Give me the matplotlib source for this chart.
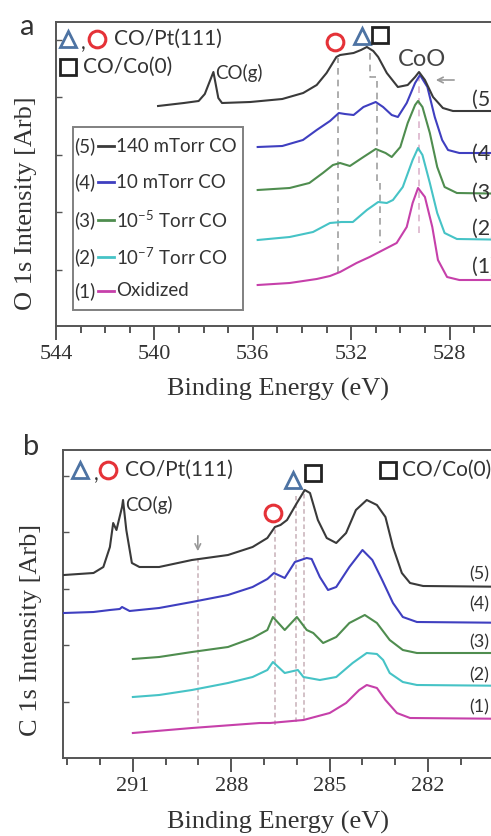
import matplotlib.pyplot as plt
from matplotlib.patches import Rectangle
from matplotlib.ticker import MultipleLocator

plt.rcParams['font.family'] = ['Liberation Serif', 'DejaVu Serif']
plt.rcParams['mathtext.fontset'] = 'custom'
plt.rcParams['mathtext.rm'] = 'Lato'
sans = ['Lato', 'DejaVu Sans']

# ---- (a) O 1s : binding energy (eV) / intensity (arb) ----
o1s_e5 = [539.85, 538.8, 538.2, 537.95, 537.6, 537.4, 537.25, 536.1, 534.8, 533.95, 533.4, 533.0, 532.6,
          532.45, 531.9, 531.6, 531.36, 531.1, 530.9, 530.55, 530.1, 529.7, 529.4, 529.24, 529.0, 528.67,
          528.27, 527.86, 526.3, 525.0]
o1s_i5 = [220, 223, 225, 232, 254, 228, 223, 224, 227, 233, 241, 253, 269,
          271, 273, 276, 279, 275, 269, 253, 239, 241, 249, 254, 246, 229,
          218, 215, 215, 215]
o1s_e4 = [535.8, 534.8, 533.96, 533.4, 532.86, 532.5, 532.25, 531.9, 531.5, 531.0, 530.7, 530.35, 530.1,
          529.74, 529.4, 529.2, 528.9, 528.6, 528.3, 528.06, 527.6, 525.0]
o1s_i4 = [179, 180, 186, 196, 205, 213, 212, 211, 219, 224, 219, 211, 209,
          223, 243, 251, 239, 209, 186, 176, 173, 173]
o1s_e3 = [535.8, 534.5, 533.7, 533.15, 532.74, 532.45, 532.05, 531.5, 531.0, 530.6, 530.35, 530.0, 529.7,
          529.4, 529.28, 529.1, 528.8, 528.5, 528.2, 527.7, 525.0]
o1s_i3 = [136, 138, 143, 153, 161, 163, 160, 169, 177, 173, 169, 179, 203,
          221, 225, 219, 193, 159, 139, 133, 132]
o1s_e2 = [535.8, 534.5, 533.55, 532.86, 532.4, 531.93, 531.36, 530.9, 530.55, 530.3, 529.9, 529.5, 529.28,
          529.1, 528.8, 528.5, 528.2, 527.7, 525.0]
o1s_i2 = [86, 89, 94, 103, 104, 104, 116, 124, 123, 126, 139, 166, 178,
          171, 143, 113, 93, 87, 86]
o1s_e1 = [535.8, 534.5, 533.4, 532.86, 532.45, 531.78, 531.25, 530.7, 530.15, 529.74, 529.5, 529.28, 529.0,
          528.7, 528.47, 528.1, 527.6, 525.0]
o1s_i1 = [41, 43, 47, 50, 54, 63, 69, 76, 83, 99, 123, 138, 129,
          99, 66, 49, 46, 46]

# ---- (b) C 1s ----
c1s_e5 = [293.1, 292.2, 291.9, 291.7, 291.6, 291.5, 291.33, 291.3, 291.2, 291.03, 290.8, 290.2, 289.2,
          288.1, 287.35, 286.9, 286.67, 286.5, 286.3, 286.0, 285.76, 285.6, 285.36, 285.09, 284.8, 284.5,
          284.2, 283.87, 283.56, 283.3, 283.07, 282.8, 282.55, 282.15, 279.0]
c1s_i5 = [183, 185, 191, 211, 235, 228, 251, 258, 228, 195, 191, 191, 198,
          203, 211, 220, 231, 233, 238, 255, 268, 265, 238, 220, 215, 225,
          248, 258, 253, 241, 211, 185, 175, 172, 171]
c1s_e4 = [293.1, 292.2, 291.7, 291.4, 291.33, 291.1, 290.2, 289.2, 288.1, 287.35, 286.9, 286.7, 286.37,
          286.06, 285.7, 285.55, 285.3, 285.05, 284.8, 284.4, 284.0, 283.7, 283.4, 283.07, 282.77, 282.34,
          279.0]
c1s_i4 = [145, 146, 148, 149, 151, 147, 150, 156, 163, 171, 179, 185, 180,
          196, 200, 199, 181, 168, 171, 191, 208, 198, 178, 155, 141, 136,
          135]
c1s_e3 = [291.0, 290.2, 289.2, 288.1, 287.35, 286.9, 286.73, 286.37, 286.0, 285.7, 285.5, 285.2, 284.8,
          284.4, 283.93, 283.56, 283.17, 282.77, 282.34, 279.0]
c1s_i3 = [99, 101, 106, 111, 120, 128, 141, 128, 141, 128, 125, 115, 121,
          135, 143, 135, 118, 108, 105, 105]
c1s_e2 = [291.0, 290.2, 289.2, 288.1, 287.35, 286.9, 286.73, 286.37, 285.97, 285.8, 285.3, 284.8, 284.3,
          283.87, 283.56, 283.37, 283.17, 282.77, 282.34, 279.0]
c1s_i2 = [61, 63, 68, 75, 81, 88, 96, 85, 88, 81, 78, 81, 95,
          105, 104, 98, 85, 76, 73, 72]
c1s_e1 = [291.0, 289.2, 287.13, 286.82, 285.8, 285.0, 284.5, 284.1, 283.87, 283.56, 283.3, 282.95, 282.55,
          279.0]
c1s_i1 = [25, 30, 35, 35, 38, 45, 55, 68, 73, 70, 58, 45, 40,
          39]

series_tags = ['(1)', '(2)', '(3)', '(4)', '(5)']
legend_labels = ['Oxidized', '10$^{-7}$ Torr CO', '10$^{-5}$ Torr CO', '10 mTorr CO', '140 mTorr CO']
colors = ['#c640aa', '#46c3c6', '#4f8d4f', '#3f3fc0', '#3a3a3a']

# dashed guide lines (energy, low, high)
o1s_guides = [(532.54, 53, 268), (529.24, 93, 249)]
o1s_step_e = [531.24, 531.24, 530.96, 530.96, 530.83, 530.83]
o1s_step_i = [273, 249, 249, 143, 143, 83]
c1s_guides = [(289.0, 35, 203), (286.67, 33, 231), (286.03, 36, 262), (285.79, 38, 268)]

tag_a_i = [59, 97, 133, 172, 226]
tag_b_i = [51, 83, 116, 154, 184]

fig = plt.figure(figsize=(4.91, 8.36), dpi=100)
ax_a = fig.add_axes([56 / 491, 1 - 326 / 836, 455 / 491, 304 / 836])
ax_b = fig.add_axes([63 / 491, 1 - 758 / 836, 462.5 / 491, 308 / 836])

gray = '#555555'


def style(ax, major, yt):
    for s in ax.spines.values():
        s.set_color(gray)
        s.set_linewidth(1.4)
    ax.xaxis.set_major_locator(MultipleLocator(major))
    ax.xaxis.set_minor_locator(MultipleLocator(1))
    ax.tick_params(axis='x', which='major', direction='out', length=10, width=1.4, color=gray,
                   labelsize=16, pad=4, labelcolor='#333333')
    ax.tick_params(axis='x', which='minor', direction='out', length=5, width=1.4, color=gray)
    ax.set_yticks(yt)
    ax.tick_params(axis='y', which='major', direction='in', length=4, width=1.0, color=gray, labelleft=False)


# panel a
ax_a.set_xlim(544, 525.5)
ax_a.set_ylim(0, 304)
style(ax_a, 4, [56, 114, 171, 229, 286])
for e, lo, hi in o1s_guides:
    ax_a.plot([e, e], [lo, hi], ls=(0, (4, 3)), lw=1.2, color='#a0a0a0' if e > 530 else '#dcb4cc', zorder=1)
ax_a.plot(o1s_step_e, o1s_step_i, ls=(0, (4, 3)), lw=1.2, color='#a0a0a0', zorder=1)
a_e = [o1s_e1, o1s_e2, o1s_e3, o1s_e4, o1s_e5]
a_i = [o1s_i1, o1s_i2, o1s_i3, o1s_i4, o1s_i5]
for k in range(5):
    ax_a.plot(a_e[k], a_i[k], color=colors[k], lw=1.5, zorder=3)
    ax_a.text(527.09, tag_a_i[k], series_tags[k], family=sans, fontsize=15.5, color='#333333', va='center')

ax_a.add_patch(Rectangle((536.4, 16), 543.31 - 536.4, 183, fill=False, ec='#808080', lw=1.4, zorder=4))
leg_i = [35, 69, 106, 144, 180]
for k in range(5):
    ax_a.text(543.25, leg_i[k], series_tags[k], family=sans, fontsize=13.5, color='#333333', va='center')
    ax_a.plot([542.3, 541.65], [leg_i[k], leg_i[k]], color=colors[k], lw=2)
    ax_a.text(541.55, leg_i[k], legend_labels[k], family=sans, fontsize=13.5, color='#333333', va='center')

ax_a.plot(543.51, 287, marker='^', ms=11, mfc='none', mec='#4d73a3', mew=2)
ax_a.text(542.98, 283, ',', family=sans, fontsize=15, color='#333333', va='center')
ax_a.plot(542.33, 287, marker='o', ms=12, mfc='none', mec='#e53238', mew=2.2)
ax_a.text(541.64, 287, 'CO/Pt(111)', family=sans, fontsize=15, color='#333333', va='center')
ax_a.plot(543.51, 259, marker='s', ms=11, mfc='none', mec='#222222', mew=2)
ax_a.text(542.9, 259, 'CO/Co(0)', family=sans, fontsize=15, color='#333333', va='center')
ax_a.plot(532.66, 284, marker='o', ms=12, mfc='none', mec='#e53238', mew=2.2)
ax_a.plot(531.56, 290, marker='^', ms=11, mfc='none', mec='#4d73a3', mew=2)
ax_a.plot(530.83, 291, marker='s', ms=11, mfc='none', mec='#222222', mew=2)
ax_a.text(529.12, 266, 'CoO', family=sans, fontsize=17, color='#444444', ha='center', va='center')
ax_a.text(537.54, 253, 'CO(g)', family=sans, fontsize=13.5, color='#333333', va='center')
ax_a.annotate('', xy=(528.67, 246), xytext=(527.7, 246),
              arrowprops=dict(arrowstyle='->', color='#999999', lw=1.2))
ax_a.set_xlabel('Binding Energy (eV)', fontsize=19, color='#333333', va='center')
ax_a.xaxis.set_label_coords(222 / 455, -0.21)
ax_a.set_ylabel('O 1s Intensity [Arb]', fontsize=19, color='#333333', va='center')
ax_a.yaxis.set_label_coords(-30 / 455, 0.405)

# panel b
ax_b.set_xlim(293.13, 279.03)
ax_b.set_ylim(0, 308)
style(ax_b, 3, [56, 113, 169, 226, 282])
for e, lo, hi in c1s_guides:
    ax_b.plot([e, e], [lo, hi], ls=(0, (3, 2)), lw=1.1, color='#c8b0b8', zorder=1)
b_e = [c1s_e1, c1s_e2, c1s_e3, c1s_e4, c1s_e5]
b_i = [c1s_i1, c1s_i2, c1s_i3, c1s_i4, c1s_i5]
for k in range(5):
    ax_b.plot(b_e[k], b_i[k], color=colors[k], lw=1.5, zorder=3)
    ax_b.text(280.73, tag_b_i[k], series_tags[k], family=sans, fontsize=13, color='#333333', va='center')

ax_b.plot(292.62, 288, marker='^', ms=11, mfc='none', mec='#4d73a3', mew=2)
ax_b.text(292.2, 284, ',', family=sans, fontsize=15, color='#333333', va='center')
ax_b.plot(291.76, 288, marker='o', ms=12, mfc='none', mec='#e53238', mew=2.2)
ax_b.text(291.24, 288, 'CO/Pt(111)', family=sans, fontsize=15, color='#333333', va='center')
ax_b.plot(283.23, 288, marker='s', ms=11, mfc='none', mec='#222222', mew=2)
ax_b.text(282.8, 288, 'CO/Co(0)', family=sans, fontsize=15, color='#333333', va='center')
ax_b.plot(286.73, 245, marker='o', ms=12, mfc='none', mec='#e53238', mew=2.2)
ax_b.plot(286.12, 278, marker='^', ms=11, mfc='none', mec='#4d73a3', mew=2)
ax_b.plot(285.51, 285, marker='s', ms=11, mfc='none', mec='#222222', mew=2)
ax_b.text(291.24, 253, 'CO(g)', family=sans, fontsize=13.5, color='#333333', va='center')
ax_b.annotate('', xy=(289.02, 204), xytext=(289.02, 225),
              arrowprops=dict(arrowstyle='->', color='#999999', lw=1.2))
ax_b.set_xlabel('Binding Energy (eV)', fontsize=19, color='#333333', va='center')
ax_b.xaxis.set_label_coords(0.465, -0.208)
ax_b.set_ylabel('C 1s Intensity [Arb]', fontsize=19, color='#333333', va='center')
ax_b.yaxis.set_label_coords(-0.069, 0.416)

fig.text(27 / 491, 1 - 35 / 836, 'a', family=sans, fontsize=21, color='#333333', ha='center', va='baseline')
fig.text(31 / 491, 1 - 455 / 836, 'b', family=sans, fontsize=21, color='#333333', ha='center', va='baseline')

fig.savefig('out.png', dpi=100)
